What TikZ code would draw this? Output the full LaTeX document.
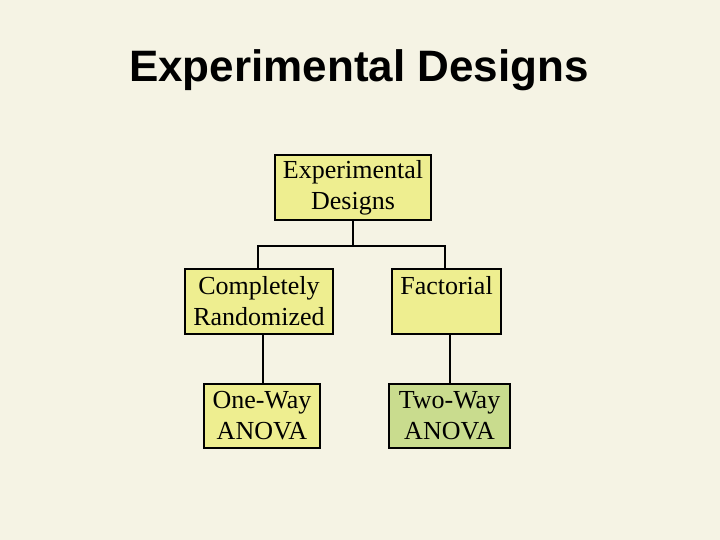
\documentclass[tikz,border=0pt]{standalone}
\usepackage{fontspec}
\setmainfont{Liberation Serif}
\newfontfamily\titlefont{Liberation Sans}
\definecolor{bg}{HTML}{F5F3E4}
\definecolor{boxy}{HTML}{EEEE90}
\definecolor{boxg}{HTML}{C9DC8E}
\begin{document}
\begin{tikzpicture}[x=1pt,y=-1pt,
  box/.style={draw=black,line width=2.5pt,fill=boxy,inner sep=0pt,align=center,font=\fontsize{26}{31}\selectfont},
  conn/.style={line width=2.5pt}]
\fill[bg] (0,0) rectangle (720,540);
\useasboundingbox (0,0) rectangle (720,540);
\node[font=\titlefont\bfseries\fontsize{44}{52}\selectfont] (title) at (359,70) {Experimental Designs};
\node[box,minimum width=156pt,minimum height=65pt] (top) at (353,187.5) {Experimental\\Designs};
\node[box,minimum width=148pt,minimum height=65pt] (cr) at (259,301.5) {Completely\\Randomized};
\node[box,minimum width=109pt,minimum height=65pt,text depth=32pt] (fa) at (446.5,301.5) {Factorial};
\node[box,minimum width=116pt,minimum height=64pt] (ow) at (262,416) {One-Way\\ANOVA};
\node[box,fill=boxg,minimum width=121pt,minimum height=64pt] (tw) at (449.5,416) {Two-Way\\ANOVA};
\coordinate (j) at (353,246);
\draw[conn] (top.south) -- (j);
\draw[conn] (cr.north -| 258,0) -- (258,246) -- (445,246) -- (fa.north -| 445,0);
\draw[conn] (cr.south -| 263,0) -- (ow.north -| 263,0);
\draw[conn] (fa.south -| 450,0) -- (tw.north -| 450,0);
\end{tikzpicture}
\end{document}
